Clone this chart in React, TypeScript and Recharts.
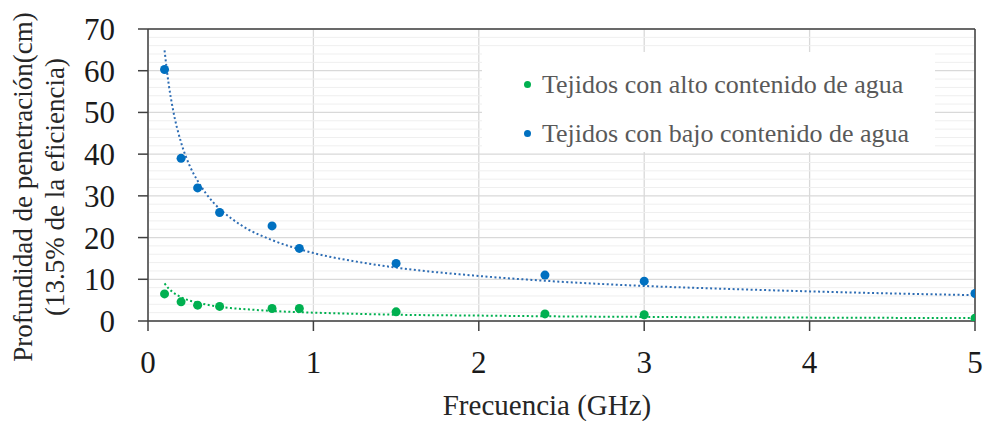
import React from "react";
import {
  ComposedChart,
  Scatter,
  Line,
  XAxis,
  YAxis,
  CartesianGrid,
  ReferenceLine,
  Legend,
} from "recharts";

// Measured points (frequency in GHz)
const frequencies = [0.1, 0.2, 0.3, 0.433, 0.75, 0.915, 1.5, 2.4, 3.0, 5.0];
const altoContenido = [6.5, 4.6, 3.8, 3.5, 3.0, 3.0, 2.2, 1.7, 1.5, 0.65];
const bajoContenido = [60.3, 39.0, 31.9, 26.0, 22.8, 17.4, 13.8, 11.0, 9.55, 6.6];

// Dotted trend curves
const trendX = [0.1, 0.125, 0.15, 0.2, 0.25, 0.3, 0.4, 0.5, 0.6, 0.75, 1, 1.25, 1.5, 2, 2.5, 3, 3.5, 4, 4.5, 5];
const trendBajo = [64.9, 56.8, 50.9, 42.8, 37.4, 33.6, 28.2, 24.7, 22.1, 19.4, 16.3, 14.3, 12.8, 10.8, 9.4, 8.4, 7.7, 7.1, 6.6, 6.2];
const trendAlto = [9.0, 7.8, 6.9, 5.7, 4.9, 4.4, 3.6, 3.1, 2.8, 2.4, 2.0, 1.73, 1.5, 1.3, 1.1, 0.98, 0.88, 0.81, 0.75, 0.7];

const xTicks = [0, 1, 2, 3, 4, 5];
const yTicks = [0, 10, 20, 30, 40, 50, 60, 70];
const yMinor = [2, 4, 6, 8, 12, 14, 16, 18, 22, 24, 26, 28, 32, 34, 36, 38, 42, 44, 46, 48, 52, 54, 56, 58, 62, 64, 66, 68];

const seriesNames = ["Tejidos con alto contenido de agua", "Tejidos con bajo contenido de agua"];
const xTitle = "Frecuencia (GHz)";
const yTitle1 = "Profundidad de penetración(cm)";
const yTitle2 = "(13.5% de la eficiencia)";

const GREEN = "#00B050";
const BLUE = "#0070C0";
const BLUE_TREND = "#2E6DB4";
const FONT = "Liberation Serif, Tinos, Times New Roman, Times, DejaVu Serif, serif";

const altoData = frequencies.map((x, i) => ({ x, y: altoContenido[i] }));
const bajoData = frequencies.map((x, i) => ({ x, y: bajoContenido[i] }));
const trendAltoData = trendX.map((x, i) => ({ x, y: trendAlto[i] }));
const trendBajoData = trendX.map((x, i) => ({ x, y: trendBajo[i] }));

const Dot = (color: string) => (props: any) => {
  const { cx, cy } = props;
  if (cx == null || cy == null) return <g />;
  return <circle cx={cx} cy={cy} r={4.5} fill={color} />;
};

const renderLegend = () => (
  <div
    style={{
      width: 453,
      height: 100,
      background: "#ffffff",
      fontFamily: FONT,
      fontSize: 26,
      color: "#595959",
      boxSizing: "border-box",
      paddingLeft: 42,
      paddingTop: 8,
    }}
  >
    {seriesNames.map((name, i) => (
      <div key={name} style={{ display: "flex", alignItems: "center", height: 49, whiteSpace: "nowrap" }}>
        <span
          style={{
            display: "inline-block",
            width: 7,
            height: 7,
            borderRadius: "50%",
            background: i === 0 ? GREEN : BLUE,
            marginRight: 11,
          }}
        />
        <span style={{ fontFamily: FONT }}>{name}</span>
      </div>
    ))}
  </div>
);

const YTitle = () => (
  <g>
    <text x={32} y={187} textAnchor="middle" transform="rotate(-90 32 187)" style={{ fontFamily: FONT, fontSize: 27, fill: "#262626" }}>
      {yTitle1}
    </text>
    <text x={64} y={187} textAnchor="middle" transform="rotate(-90 64 187)" style={{ fontFamily: FONT, fontSize: 27, fill: "#262626" }}>
      {yTitle2}
    </text>
  </g>
);

const XTitle = () => (
  <text x={547} y={415} textAnchor="middle" style={{ fontFamily: FONT, fontSize: 29, fill: "#262626" }}>
    {xTitle}
  </text>
);

const tickStyle = { fontFamily: FONT, fontSize: 31, fill: "#1a1a1a", style: { fontFamily: FONT } };

export default function App() {
  return (
    <div style={{ position: "absolute", left: 0, top: 0, width: 985, height: 421, background: "#fff", fontFamily: FONT }}>
      <ComposedChart width={985} height={421} margin={{ top: 29, right: 10, bottom: 0, left: 0 }} style={{ fontFamily: FONT }}>
        {yMinor.map((v) => (
          <ReferenceLine key={v} y={v} stroke="#efefef" strokeWidth={1} ifOverflow="hidden" />
        ))}
        <CartesianGrid stroke="#d9d9d9" strokeWidth={1.3} />
        <ReferenceLine y={70} stroke="#404040" strokeWidth={1.5} />
        <ReferenceLine x={5} stroke="#404040" strokeWidth={1.5} />
        <XAxis
          type="number"
          dataKey="x"
          domain={[0, 5]}
          ticks={xTicks}
          allowDataOverflow
          height={100}
          tickSize={10}
          tickMargin={20}
          axisLine={{ stroke: "#404040", strokeWidth: 1.5 }}
          tickLine={{ stroke: "#404040", strokeWidth: 1.5 }}
          tick={tickStyle}
          label={{ content: XTitle }}
        />
        <YAxis
          type="number"
          dataKey="y"
          domain={[0, 70]}
          ticks={yTicks}
          allowDataOverflow
          width={148}
          tickSize={10}
          tickMargin={23}
          axisLine={{ stroke: "#404040", strokeWidth: 1.5 }}
          tickLine={{ stroke: "#404040", strokeWidth: 1.5 }}
          tick={tickStyle}
          label={{ content: YTitle }}
        />
        <Line
          data={trendBajoData}
          dataKey="y"
          type="monotone"
          stroke={BLUE_TREND}
          strokeWidth={2}
          strokeDasharray="2 2.5"
          dot={false}
          activeDot={false}
          isAnimationActive={false}
          legendType="none"
        />
        <Line
          data={trendAltoData}
          dataKey="y"
          type="monotone"
          stroke={GREEN}
          strokeWidth={2}
          strokeDasharray="2 2.5"
          dot={false}
          activeDot={false}
          isAnimationActive={false}
          legendType="none"
        />
        <Scatter data={altoData} dataKey="y" fill={GREEN} shape={Dot(GREEN)} isAnimationActive={false} />
        <Scatter data={bajoData} dataKey="y" fill={BLUE} shape={Dot(BLUE)} isAnimationActive={false} />
        <Legend
          layout="vertical"
          align="center"
          verticalAlign="middle"
          content={renderLegend}
          wrapperStyle={{ position: "absolute", left: 482, top: 52, width: 453, height: 100 }}
        />
      </ComposedChart>
    </div>
  );
}
